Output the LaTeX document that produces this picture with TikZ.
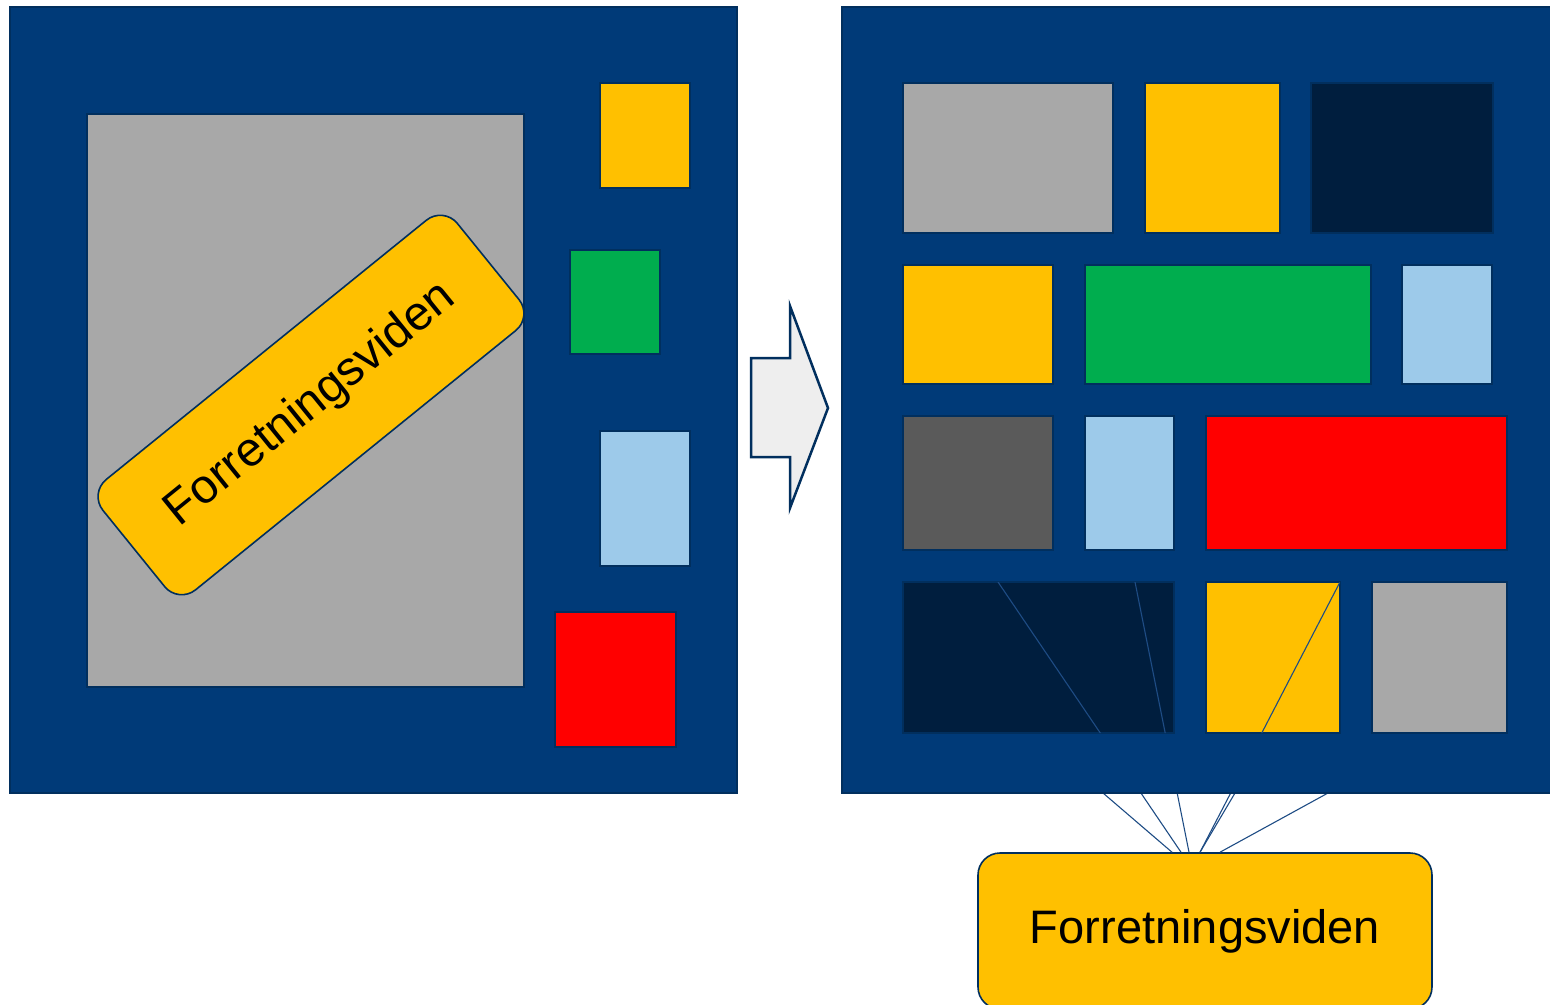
\documentclass[tikz,border=0pt]{standalone}
\usepackage{fontspec}
\setmainfont{Liberation Sans}
\usetikzlibrary{positioning}
\definecolor{panel}{HTML}{003A78}
\definecolor{edge}{HTML}{012F5E}
\definecolor{ashgray}{HTML}{A8A8A8}
\definecolor{gold}{HTML}{FFC000}
\definecolor{leaf}{HTML}{00AD4E}
\definecolor{sky}{HTML}{9DCAEA}
\definecolor{night}{HTML}{001E3E}
\definecolor{slate}{HTML}{5A5A5A}
\definecolor{pale}{HTML}{EEEEEE}
\definecolor{wire}{HTML}{1E4C84}

\begin{document}
\begin{tikzpicture}[x=1pt,y=-1pt,
    blk/.style={draw=edge,line width=1.3pt},
    tag/.style={draw=edge,fill=gold,rounded corners=22pt,line width=1.6pt,
                font=\fontsize{47}{50}\selectfont}]
    \useasboundingbox (0,0) rectangle (1550,1004);

    % left panel
    \filldraw[blk,fill=panel]   (10,7)    rectangle (737,793);
    \filldraw[blk,fill=ashgray] (87,114)  rectangle (524,687);
    \filldraw[blk,fill=gold]    (600,83)  rectangle (690,188);
    \filldraw[blk,fill=leaf]    (570,250) rectangle (660,354);
    \filldraw[blk,fill=sky]     (600,431) rectangle (690,566);
    \filldraw[blk,fill=red]     (555,612) rectangle (676,747);
    \node[tag,rotate=39,minimum width=456pt,minimum height=142pt,
          font=\fontsize{48}{50}\selectfont] (oldtag) at (311,405) {Forretningsviden};

    % arrow
    \filldraw[draw=edge,fill=pale,line width=2.5pt]
        (751,358) -- (790,358) -- (790,306) -- (828,408)
        -- (790,508) -- (790,457) -- (751,457) -- cycle;

    % right panel
    \filldraw[blk,fill=panel]   (842,7)    rectangle (1553,793);
    \filldraw[blk,fill=ashgray] (903,83)   rectangle (1113,233);
    \filldraw[blk,fill=gold]    (1145,83)  rectangle (1280,233);
    \filldraw[blk,fill=night]   (1311,83)  rectangle (1493,233);
    \filldraw[blk,fill=gold]    (903,265)  rectangle (1053,384);
    \filldraw[blk,fill=leaf]    (1085,265) rectangle (1371,384);
    \filldraw[blk,fill=sky]     (1402,265) rectangle (1492,384);
    \filldraw[blk,fill=slate]   (903,416)  rectangle (1053,550);
    \filldraw[blk,fill=sky]     (1085,416) rectangle (1174,550);
    \filldraw[blk,fill=red]     (1206,416) rectangle (1507,550);
    \filldraw[blk,fill=night]   (903,582)  rectangle (1174,733);
    \filldraw[blk,fill=gold]    (1206,582) rectangle (1340,733);
    \filldraw[blk,fill=ashgray] (1372,582) rectangle (1507,733);

    \node[tag,minimum width=454pt,minimum height=156pt] (newtag) at (1205,931) {Forretningsviden};

    % ends of the wires
    \coordinate (w1) at (1103,793);
    \coordinate (w2) at (998,582);
    \coordinate (w3) at (1135,582);
    \coordinate (w4) at (1340,582);
    \coordinate (w5) at (1235,793);
    \coordinate (w6) at (1328,793);
    \coordinate (s1) at ([xshift=-33pt]newtag.north);
    \coordinate (s2) at ([xshift=-24pt]newtag.north);
    \coordinate (s3) at ([xshift=-16pt]newtag.north);
    \coordinate (s4) at ([xshift=-5pt]newtag.north);
    \coordinate (s5) at ([xshift=-5pt]newtag.north);
    \coordinate (s6) at ([xshift=15pt]newtag.north);

    \begin{scope}
        \clip (903,582) rectangle (1174,733) (1206,582) rectangle (1340,733)
              (842,794) rectangle (1553,1004);
        \foreach \i in {1,...,6}
            \draw[wire,line width=1.1pt] (s\i) -- (w\i);
    \end{scope}
\end{tikzpicture}
\end{document}
